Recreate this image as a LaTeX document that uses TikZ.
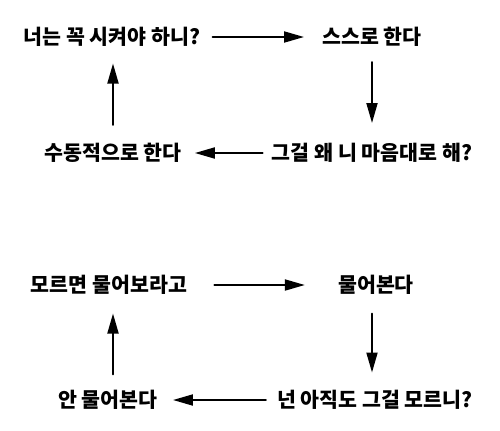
\documentclass[tikz,border=0pt]{standalone}
\usepackage{fontspec}
\newfontfamily\kr{Noto Sans CJK KR}
\usetikzlibrary{arrows.meta}
\begin{document}
\begin{tikzpicture}[x=0.02cm,y=-0.02cm,>={Triangle[length=0.4cm,width=0.22cm]}, font=\kr\bfseries\fontsize{11.7}{13}\selectfont, line join=round, line cap=round]
\tikzset{lbl/.style={inner sep=0pt}, arr/.style={->,line width=1.1pt}}
\useasboundingbox (0,0) rectangle (500,430);
% Khối trên
\node[lbl] (a) at (112,37) {너는 꼭 시켜야 하니?};
\node[lbl] (b) at (372,37) {스스로 한다};
\node[lbl] (c) at (372,153) {그걸 왜 니 마음대로 해?};
\node[lbl] (d) at (113,153) {수동적으로 한다};
\draw[arr,shorten <=0.24cm,shorten >=0.36cm] (a.east)--(b.west);
\draw[arr,shorten <=0.3cm,shorten >=0.4cm] (b.south)--(b.south|-c.north);
\draw[arr,shorten <=0.18cm,shorten >=0.26cm] (c.west)--(d.east);
\draw[arr,shorten <=0.36cm,shorten >=0.33cm] (d.north)--(d.north|-a.south);
% Khối dưới
\node[lbl] (e) at (109,285) {모르면 물어보라고};
\node[lbl] (f) at (376,285) {물어본다};
\node[lbl] (g) at (375,400) {넌 아직도 그걸 모르니?};
\node[lbl] (h) at (108,400) {안 물어본다};
\draw[arr,shorten <=0.54cm,shorten >=0.66cm] (e.east)--(f.west);
\draw[arr,shorten <=0.37cm,shorten >=0.35cm] (f.south-|b.south)--(b.south|-g.north);
\draw[arr,shorten <=0.22cm,shorten >=0.3cm] (g.west)--(h.east);
\draw[arr,shorten <=0.31cm,shorten >=0.37cm] (h.north-|d.north)--(d.north|-e.south);
\end{tikzpicture}
\end{document}
